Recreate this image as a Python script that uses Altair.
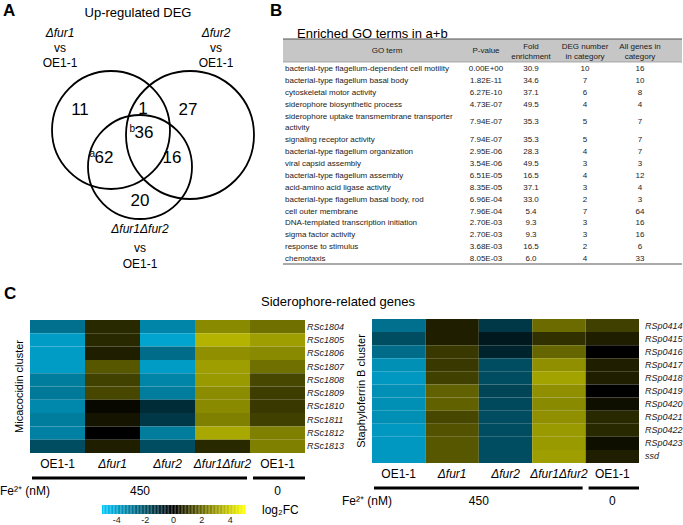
import altair as alt
import pandas as pd
import numpy as np

W, H = 683, 525
FONT = "Liberation Sans"

# ---------------- Panel A: Venn data ----------------
venn_counts = ["11", "1", "27", "62", "36", "16", "20"]
venn_sup = ["", "", "", "a", "b", "", ""]
venn_sets = ["Δfur1", "Δfur2", "Δfur1Δfur2"]

# ---------------- Panel B: GO table data ----------------
go_terms = [
    "bacterial-type flagellum-dependent cell motility",
    "bacterial-type flagellum basal body",
    "cytoskeletal motor activity",
    "siderophore biosynthetic process",
    "siderophore uptake transmembrane transporter\nactivity",
    "signaling receptor activity",
    "bacterial-type flagellum organization",
    "viral capsid assembly",
    "bacterial-type flagellum assembly",
    "acid-amino acid ligase activity",
    "bacterial-type flagellum basal body, rod",
    "cell outer membrane",
    "DNA-templated transcription initiation",
    "sigma factor activity",
    "response to stimulus",
    "chemotaxis",
]
go_pvalue = ["0.00E+00", "1.82E-11", "6.27E-10", "4.73E-07", "7.94E-07", "7.94E-07",
             "2.95E-06", "3.54E-06", "6.51E-05", "8.35E-05", "6.96E-04", "7.96E-04",
             "2.70E-03", "2.70E-03", "3.68E-03", "8.05E-03"]
go_fold = ["30.9", "34.6", "37.1", "49.5", "35.3", "35.3", "28.3", "49.5", "16.5",
           "37.1", "33.0", "5.4", "9.3", "9.3", "16.5", "6.0"]
go_deg = ["10", "7", "6", "4", "5", "5", "4", "3", "4", "3", "2", "7", "3", "3", "2", "4"]
go_all = ["16", "10", "8", "4", "7", "7", "7", "3", "12", "4", "3", "64", "16", "16", "6", "33"]
go_headers = ["GO term", "P-value", "Fold\nenrichment", "DEG number\nin category",
              "All genes in\ncategory"]

# ---------------- Panel C: heatmap data (log2FC) ----------------
conditions = ["OE1-1", "Δfur1", "Δfur2", "Δfur1Δfur2", "OE1-1"]
cond_ids = ["c1", "c2", "c3", "c4", "c5"]

mica_genes = ["RSc1804", "RSc1805", "RSc1806", "RSc1807", "RSc1808",
              "RSc1809", "RSc1810", "RSc1811", "RSc1812", "RSc1813"]
mica_oe_450 = [-2.8, -3.9, -3.9, -3.9, -3.1, -3.0, -3.4, -3.1, -3.2, -1.9]
mica_fur1 = [0.8, 0.8, 0.6, 1.7, 1.3, 1.4, 0.15, 0.4, 0.0, 0.6]
mica_fur2 = [-3.3, -4.1, -2.7, -3.9, -3.3, -3.1, -1.1, -1.4, -3.1, -1.9]
mica_fur12 = [2.7, 3.5, 2.8, 3.1, 3.0, 2.75, 2.7, 2.5, 3.3, 0.8]
mica_oe_0 = [2.2, 3.1, 2.7, 2.2, 1.4, 1.2, 1.1, 1.25, 2.5, 2.5]

staph_genes = ["RSp0414", "RSp0415", "RSp0416", "RSp0417", "RSp0418", "RSp0419",
               "RSp0420", "RSp0421", "RSp0422", "RSp0423", "ssd"]
staph_oe_450 = [-2.8, -1.9, -2.7, -3.6, -3.8, -3.6, -3.6, -3.6, -3.8, -3.8, -3.8]
staph_fur1 = [0.6, 0.6, 1.1, 1.1, 1.25, 1.9, 1.9, 1.4, 1.6, 1.7, 1.7]
staph_fur2 = [-1.4, -0.6, -0.9, -1.9, -1.9, -1.7, -1.8, -1.9, -1.9, -1.9, -1.9]
staph_fur12 = [2.1, 0.95, 2.0, 2.8, 3.2, 2.8, 2.7, 2.8, 3.0, 3.0, 3.1]
staph_oe_0 = [1.25, 0.6, 0.0, 0.6, 0.6, 0.0, 0.3, 0.8, 0.8, 0.3, 0.6]

fe_levels = ["450", "0"]
cbar_ticks = [-4, -2, 0, 2, 4]
cbar_labels = ["-4", "-2", "0", "2", "4"]

# ---------------- layout constants ----------------
VENN_CIRCLES = pd.DataFrame({
    "cx": [111.0, 190.0, 140.0],
    "cy": [130.0, 135.0, 167.0],
    "r": [59.0, 64.0, 52.0],
})
VENN_NUM_POS = [(80, 110), (143, 109), (188, 110), (104, 158), (144, 133), (172, 158), (140, 201)]

color_scale = alt.Scale(domain=[-5, 0, 5], range=["#00c8fd", "#000000", "#ffff00"],
                        interpolate="rgb", clamp=True)

layers = []
TXT_COL = "#1a1a1a"


def txt(s, x, y, size=12, align="center", baseline="middle", style="normal",
        weight="normal", angle=0, color="#000000"):
    return alt.Chart(pd.DataFrame({"t": [s]})).mark_text(
        align=align, baseline=baseline, fontSize=size, fontStyle=style,
        fontWeight=weight, angle=angle, color=color, font=FONT, lineBreak="\n"
    ).encode(x=alt.value(x), y=alt.value(y), text="t:N")


def px(lo, hi, dom=(0, 1)):
    return alt.Scale(domain=list(dom), range=[lo, hi])


# ---------- Panel labels ----------
layers.append(txt("A", 3, 16, size=17, align="left", baseline="alphabetic", weight="bold"))
layers.append(txt("B", 270, 16, size=17, align="left", baseline="alphabetic", weight="bold"))
layers.append(txt("C", 4, 299, size=17, align="left", baseline="alphabetic", weight="bold"))

# ---------- Panel A ----------
layers.append(txt("Up-regulated DEG", 138, 13, size=13))
for lbl, x in [(venn_sets[0], 60), (venn_sets[1], 216)]:
    layers.append(txt(lbl, x, 33, size=12, style="italic"))
    layers.append(txt("vs", x, 48, size=12))
    layers.append(txt("OE1-1", x, 63, size=12))
layers.append(txt(venn_sets[2], 140, 229, size=12, style="italic"))
layers.append(txt("vs", 140, 248, size=12))
layers.append(txt("OE1-1", 140, 264, size=12))

circ = VENN_CIRCLES.copy()
circ["size"] = (2 * circ["r"]) ** 2
layers.append(
    alt.Chart(circ).mark_point(shape="circle", filled=False, stroke="#000000",
                               strokeWidth=1.8, opacity=1).encode(
        x=alt.X("cx:Q", scale=px(0, W, (0, W)), axis=None),
        y=alt.Y("cy:Q", scale=px(0, H, (0, H)), axis=None),
        size=alt.Size("size:Q", scale=None, legend=None),
    )
)
vnum = pd.DataFrame({
    "n": venn_counts, "s": venn_sup,
    "x": [p[0] for p in VENN_NUM_POS], "y": [p[1] for p in VENN_NUM_POS],
})
layers.append(
    alt.Chart(vnum).mark_text(fontSize=17, font=FONT, baseline="middle").encode(
        x=alt.X("x:Q", scale=px(0, W, (0, W)), axis=None),
        y=alt.Y("y:Q", scale=px(0, H, (0, H)), axis=None),
        text="n:N",
    )
)
vsup = vnum[vnum["s"] != ""].copy()
layers.append(
    alt.Chart(vsup).mark_text(fontSize=10, font=FONT, baseline="middle", align="right",
                              dx=-9, dy=-4).encode(
        x=alt.X("x:Q", scale=px(0, W, (0, W)), axis=None),
        y=alt.Y("y:Q", scale=px(0, H, (0, H)), axis=None),
        text="s:N",
    )
)

# ---------- Panel B ----------
layers.append(txt("Enriched GO terms in a+b", 297, 34, size=13, align="left"))
TX0, TX1 = 283, 682
layers.append(alt.Chart(pd.DataFrame({"a": [0]})).mark_rect(color="#c6c6c6").encode(
    x=alt.value(TX0), x2=alt.value(TX1), y=alt.value(39), y2=alt.value(62)))
layers.append(alt.Chart(pd.DataFrame({"a": [0]})).mark_rule(color="#555555", strokeWidth=1.2).encode(
    x=alt.value(TX0), x2=alt.value(TX1), y=alt.value(39)))
layers.append(alt.Chart(pd.DataFrame({"a": [0]})).mark_rule(color="#999999", strokeWidth=0.8).encode(
    x=alt.value(TX0), x2=alt.value(TX1), y=alt.value(62)))
layers.append(alt.Chart(pd.DataFrame({"a": [0]})).mark_rule(color="#555555", strokeWidth=1).encode(
    x=alt.value(TX0), x2=alt.value(TX1), y=alt.value(264)))

col_x = [387, 486, 531, 585, 640]
for h, x in zip(go_headers, col_x):
    nl = h.count("\n")
    layers.append(txt(h, x, 51 - 4.5 * nl, size=8, color=TXT_COL))

rows = []
line = 0
for i, term in enumerate(go_terms):
    parts = term.split("\n")
    for k, p in enumerate(parts):
        rows.append({"col": "term", "t": p, "y": line + k})
    center = line + (len(parts) - 1) / 2
    for col, vals in [("p", go_pvalue), ("f", go_fold), ("d", go_deg), ("a", go_all)]:
        rows.append({"col": col, "t": vals[i], "y": center})
    line += len(parts)
tab = pd.DataFrame(rows)
nlines = line
yscale_tab = alt.Scale(domain=[0, nlines - 1], range=[69, 259])
layers.append(
    alt.Chart(tab[tab["col"] == "term"]).mark_text(
        align="left", baseline="middle", fontSize=8, font=FONT, color=TXT_COL).encode(
        x=alt.value(285),
        y=alt.Y("y:Q", scale=yscale_tab, axis=None),
        text="t:N")
)
layers.append(
    alt.Chart(tab[tab["col"] != "term"]).transform_calculate(
        xx="datum.col == 'p' ? 0 : datum.col == 'f' ? 1 : datum.col == 'd' ? 2 : 3"
    ).mark_text(
        align="center", baseline="middle", fontSize=8, font=FONT, color=TXT_COL).encode(
        x=alt.X("xx:Q", scale=alt.Scale(domain=[0, 1, 2, 3], range=col_x[1:]), axis=None),
        y=alt.Y("y:Q", scale=yscale_tab, axis=None),
        text="t:N")
)

# ---------- Panel C ----------
layers.append(txt("Siderophore-related genes", 338, 302, size=13))


def heatmap(genes, cols, x0, x1, y0, y1, label_x, cluster, cluster_x):
    recs = []
    for cid, vals in zip(cond_ids, cols):
        for g, v in zip(genes, vals):
            recs.append({"cond": cid, "gene": g, "v": v})
    df = pd.DataFrame(recs)
    xs = alt.Scale(domain=cond_ids, range=[x0, x1], paddingInner=0, paddingOuter=0)
    ys = alt.Scale(domain=genes, range=[y0, y1], paddingInner=0, paddingOuter=0)
    out = []
    out.append(alt.Chart(df).mark_rect(strokeWidth=0).encode(
        x=alt.X("cond:N", scale=xs, axis=None),
        y=alt.Y("gene:N", scale=ys, axis=None),
        color=alt.Color("v:Q", scale=color_scale, legend=None)))
    out.append(alt.Chart(pd.DataFrame({"gene": genes})).mark_text(
        align="left", baseline="middle", fontSize=9, fontStyle="italic", font=FONT,
        color=TXT_COL).encode(
        x=alt.value(label_x), y=alt.Y("gene:N", scale=ys, axis=None), text="gene:N"))
    cl = pd.DataFrame({"cond": cond_ids, "lab": conditions,
                       "it": ["normal", "italic", "italic", "italic", "normal"]})
    for style in ["normal", "italic"]:
        out.append(alt.Chart(cl[cl["it"] == style]).mark_text(
            baseline="middle", fontSize=12, font=FONT, fontStyle=style).encode(
            x=alt.X("cond:N", scale=xs, axis=None), y=alt.value(y1 + 11), text="lab:N"))
    cw = (x1 - x0) / 5
    yb = y1 + 25
    out.append(alt.Chart(pd.DataFrame({"a": [0]})).mark_rule(strokeWidth=3, color="#000").encode(
        x=alt.value(x0 + 2), x2=alt.value(x0 + 4 * cw - 3), y=alt.value(yb)))
    out.append(alt.Chart(pd.DataFrame({"a": [0]})).mark_rule(strokeWidth=3, color="#000").encode(
        x=alt.value(x0 + 4 * cw + 3), x2=alt.value(x1), y=alt.value(yb)))
    out.append(txt(cluster, cluster_x, (y0 + y1) / 2, size=11, angle=270))
    out.append(txt(fe_levels[0], x0 + 2 * cw, yb + 13, size=12))
    out.append(txt(fe_levels[1], x0 + 4.5 * cw, yb + 13, size=12))
    return out, yb + 13


l1, fy1 = heatmap(mica_genes, [mica_oe_450, mica_fur1, mica_fur2, mica_fur12, mica_oe_0],
                  30, 305, 320, 453, 307, "Micacocidin cluster", 20)
l2, fy2 = heatmap(staph_genes, [staph_oe_450, staph_fur1, staph_fur2, staph_fur12, staph_oe_0],
                  372, 639, 319, 463, 645, "Staphyloferrin B cluster", 362)
layers += l1 + l2
layers.append(txt("Fe²⁺ (nM)", 0, fy1, size=12, align="left"))
layers.append(txt("Fe²⁺ (nM)", 342, fy2, size=12, align="left"))

# colorbar
cb = np.round(np.linspace(-5, 5, 101), 3)
cbdf = pd.DataFrame({"v": cb, "lo": cb - 0.05, "hi": cb + 0.05})
cbx = alt.Scale(domain=[-5.05, 5.05], range=[102, 245])
layers.append(alt.Chart(cbdf).mark_rect(strokeWidth=0).encode(
    x=alt.X("lo:Q", scale=cbx, axis=None), x2="hi:Q",
    y=alt.value(505), y2=alt.value(514),
    color=alt.Color("v:Q", scale=color_scale, legend=None)))
layers.append(alt.Chart(pd.DataFrame({"t": cbar_ticks, "lab": cbar_labels})).mark_text(
    fontSize=9, font=FONT, baseline="alphabetic", color=TXT_COL).encode(
    x=alt.X("t:Q", scale=cbx, axis=None), y=alt.value(523), text="lab:N"))
layers.append(txt("log₂FC", 262, 510, size=12, align="left"))

chart = alt.layer(*layers).resolve_scale(
    x="independent", y="independent"
).properties(
    width=W, height=H, autosize="none", padding=0
).configure_view(stroke=None)

chart.save("out.html", embed_options={"renderer": "svg", "actions": False})
